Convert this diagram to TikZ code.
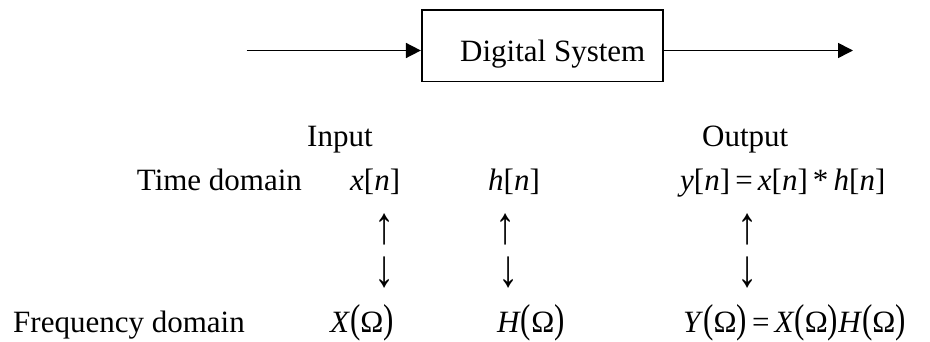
\documentclass[tikz,border=0pt]{standalone}
\usepackage{fontspec}
\setmainfont{Liberation Serif}
\usetikzlibrary{arrows.meta}
\newcommand\lpr{\scalebox{1}[1.3]{(}}
\newcommand\rpr{\scalebox{1}[1.3]{)}}
\newcommand\tallglyph[1]{\scalebox{1.3}[1.7]{#1}}
\begin{document}
\begin{tikzpicture}[x=1pt,y=1pt,
  every node/.style={font=\fontsize{31}{36}\selectfont},
  txt/.style={inner sep=0pt,anchor=base west},
  glyph/.style={inner sep=0pt,anchor=center},
  sysbox/.style={draw,line width=1.6pt,minimum width=241pt,minimum height=71.7pt,inner sep=0pt},
  flow/.style={line width=1.6pt,-{Triangle[length=15pt,width=15pt]}}]
\useasboundingbox (0,0) rectangle (930,-342);
\node[sysbox] (sys) at (542.2,-45.85) {};
\node[txt] (label) at (460,-61.7) {Digital System};
\coordinate (in) at (246.7,-50.5);
\coordinate (out) at (853,-50.5);
\draw[flow] (in) -- (in -| sys.west);
\draw[flow] (out -| sys.east) -- (out);
\node[txt] (input) at (307,-147) {Input};
\node[txt] (output) at (702,-147) {Output};
\node[txt] (tdom) at (136.7,-191) {Time domain};
\node[txt] (xn) at (350,-191) {\textit{x}[\textit{n}]};
\node[txt] (hn) at (488,-191) {\textit{h}[\textit{n}]};
\node[txt] (yn) at (680,-191) {\textit{y}[\textit{n}]\,=\,\textit{x}[\textit{n}]\,*\,\textit{h}[\textit{n}]};
\node[glyph] (up1) at (385,-229.5) {\tallglyph{↑}};
\node[glyph] (up2) at (506,-229.5) {\tallglyph{↑}};
\node[glyph] (up3) at (748,-229.5) {\tallglyph{↑}};
\node[glyph] (dn1) at (385,-272.5) {\tallglyph{↓}};
\node[glyph] (dn2) at (509,-272.5) {\tallglyph{↓}};
\node[glyph] (dn3) at (748,-272.5) {\tallglyph{↓}};
\node[txt] (fdom) at (13,-332) {Frequency domain};
\node[txt] (XO) at (330,-332) {\textit{X}\lpr Ω\rpr};
\node[txt] (HO) at (497,-332) {\textit{H}\lpr Ω\rpr};
\node[txt] (YO) at (683,-332) {\textit{Y}\lpr Ω\rpr\,=\,\textit{X}\lpr Ω\rpr\textit{H}\lpr Ω\rpr};
\end{tikzpicture}
\end{document}
